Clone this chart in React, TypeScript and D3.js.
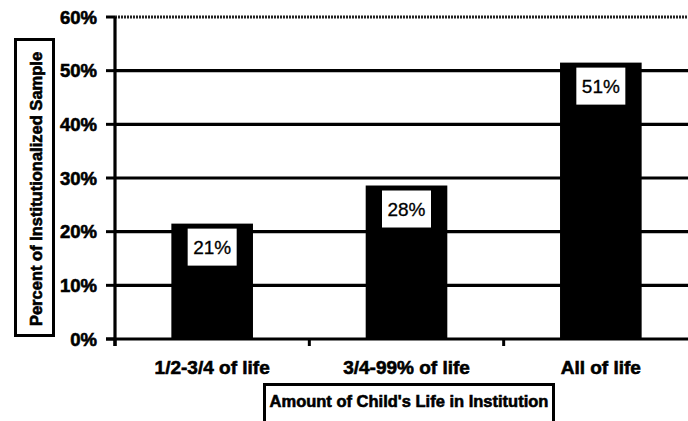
import React from "react";
import * as d3 from "d3";

const categories = ["1/2-3/4 of life", "3/4-99% of life", "All of life"];
const values = [21.5, 28.6, 51.5];
const valueLabels = ["21%", "28%", "51%"];
const yTicks = [0, 10, 20, 30, 40, 50, 60];
const yTitle = "Percent of Institutionalized Sample";
const xTitle = "Amount of Child's Life in Institution";

const W = 688;
const H = 421;
const FONT = "'Liberation Sans', Arial, Helvetica, sans-serif";
const heavy = { stroke: "#000", strokeWidth: 0.6 };

export default function App() {
  const x = d3.scaleBand<string>().domain(categories).range([115, 698]).paddingInner(0.58).paddingOuter(0.29);
  const y = d3.scaleLinear().domain([0, 60]).range([339, 17]);
  const step = x.step();
  const catTicks = [115, 115 + step, 115 + 2 * step];

  return (
    <svg width={W} height={H} style={{ position: "absolute", left: 0, top: 0, background: "#fff" }} fontFamily={FONT}>
      <rect x={0} y={0} width={W} height={H} fill="#fff" />
      {/* gridlines */}
      {yTicks.filter((t) => t > 0).map((t) => (
        <line
          key={"g" + t}
          x1={115}
          x2={W}
          y1={y(t)}
          y2={y(t)}
          stroke={t === 60 ? "#222" : "#000"}
          strokeWidth={t === 60 ? 3 : 3.2}
          strokeDasharray={t === 60 ? "2,1" : undefined}
        />
      ))}
      {/* y tick marks and labels */}
      {yTicks.map((t) => (
        <g key={"t" + t}>
          <line x1={106} x2={115} y1={y(t)} y2={y(t)} stroke="#000" strokeWidth={3} />
          <text x={97} y={y(t) + 6.5} textAnchor="end" fontSize={18.5} fontWeight="bold" fill="#000" {...heavy}>
            {t}%
          </text>
        </g>
      ))}
      {/* bars */}
      {categories.map((c, i) => {
        const bx = x(c)!;
        const bw = x.bandwidth();
        const top = y(values[i]);
        const cx = bx + bw / 2;
        return (
          <g key={c}>
            <rect x={bx} y={top} width={bw} height={y(0) - top} fill="#000" />
            <rect x={cx - 24.5} y={top + 5} width={49} height={37} fill="#fff" />
            <text x={cx} y={top + 30} textAnchor="middle" fontSize={19} fill="#000" stroke="#000" strokeWidth={0.3}>
              {valueLabels[i]}
            </text>
            <text x={cx} y={374} textAnchor="middle" fontSize={19} fontWeight="bold" fill="#000" {...heavy}>
              {c}
            </text>
          </g>
        );
      })}
      {/* x axis line */}
      <line x1={106} x2={W} y1={y(0)} y2={y(0)} stroke="#000" strokeWidth={3} />
      {/* category ticks */}
      {catTicks.map((tx, i) => (
        <line key={"ct" + i} x1={tx} x2={tx} y1={y(0)} y2={346} stroke="#000" strokeWidth={3} />
      ))}
      {/* y axis line */}
      <line x1={115} x2={115} y1={y(60)} y2={346} stroke="#000" strokeWidth={3.2} />
      {/* y title box */}
      <rect x={15.5} y={39.5} width={38} height={296} fill="#fff" stroke="#000" strokeWidth={3} />
      <text
        transform={`translate(36,189) rotate(-90)`}
        dy="0.35em"
        textAnchor="middle"
        fontSize={16.5}
        fontWeight="bold"
        fill="#000"
        {...heavy}
      >
        {yTitle}
      </text>
      {/* x title box */}
      <rect x={264.5} y={384.5} width={289} height={50} fill="#fff" stroke="#000" strokeWidth={3} />
      <text x={409} y={407} textAnchor="middle" fontSize={16.5} fontWeight="bold" fill="#000" {...heavy}>
        {xTitle}
      </text>
    </svg>
  );
}
